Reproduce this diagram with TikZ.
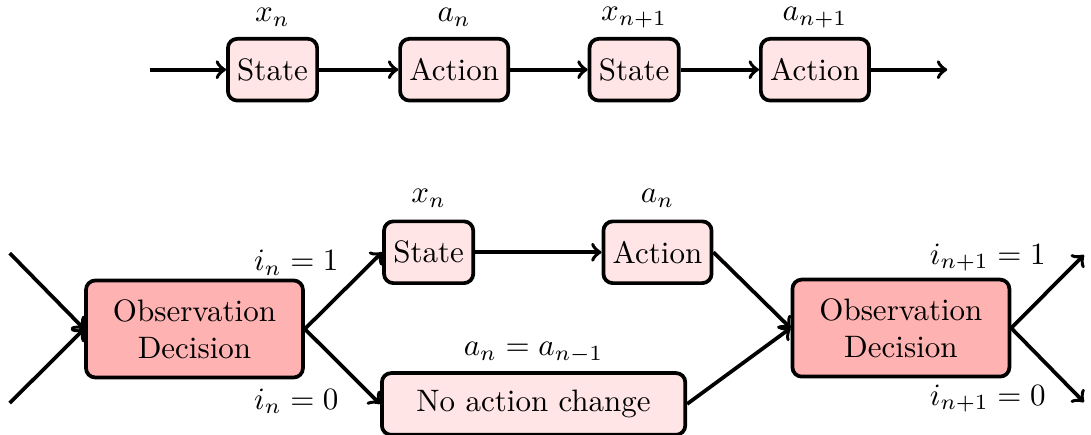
\documentclass[tikz,border=0pt]{standalone}
\usetikzlibrary{
    calc,
    arrows
}
\tikzset{
  every path/.style={
    black,
    line width=1.2pt
  },
  box/.style={
    draw,
    rounded corners=3pt,
    fill=red!10,
    inner sep=3pt,
    minimum height=0.7cm
  },
  decbox/.style={
    box,
    fill=red!30,
    align=center,
    minimum width=2.46cm,
    minimum height=1.1cm
  }
}

\begin{document}
\begin{tikzpicture}
    \useasboundingbox (0,0) rectangle (12.37,-4.93);

    % 上段
    \node[box] (S1) at (3.09,-0.79) {State};
    \node[box] (A1) at (5.15,-0.79) {Action};
    \node[box] (S2) at (7.19,-0.79) {State};
    \node[box] (A2) at (9.24,-0.79) {Action};
    \coordinate (in) at (1.70,-0.79);
    \coordinate (out) at (10.74,-0.79);

    \node (xa) at (3.09,-0.2) {$x_n$};
    \node (aa) at (5.15,-0.2) {$a_n$};
    \node (xb) at (7.19,-0.2) {$x_{n+1}$};
    \node (ab) at (9.24,-0.2) {$a_{n+1}$};

    \draw[->] (in) -- (S1);
    \draw[->] (S1) -- (A1);
    \draw[->] (A1) -- (S2);
    \draw[->] (S2) -- (A2);
    \draw[->] (A2) -- (out);

    % 下段
    \node[decbox] (D1) at (2.205,-3.73) {Observation\\Decision};
    \node[box] (S) at (4.86,-2.86) {State};
    \node[box] (A) at (7.455,-2.86) {Action};
    \node[box, minimum width=3.44cm] (N) at (6.05,-4.58) {No action change};
    \node[decbox] (D2) at (10.215,-3.72) {Observation\\Decision};

    \coordinate (inA) at (0.11,-2.87);
    \coordinate (inB) at (0.11,-4.57);
    \coordinate (outA) at (12.29,-2.89);
    \coordinate (outB) at (12.29,-4.56);

    \node (x) at (4.86,-2.25) {$x_n$};
    \node (a) at (7.455,-2.25) {$a_n$};
    \node (keep) at (6.05,-4.0) {$a_n = a_{n-1}$};
    \node (i1) at (3.36,-2.98) {$i_n = 1$};
    \node (i0) at (3.36,-4.55) {$i_n = 0$};
    \node (j1) at (11.2,-2.92) {$i_{n+1} = 1$};
    \node (j0) at (11.2,-4.52) {$i_{n+1} = 0$};

    \draw[->] (inA) -- (D1.west);
    \draw[->] (inB) -- (D1.west);
    \draw[->] (D1.east) -- (S.west);
    \draw[->] (D1.east) -- (N.west);
    \draw[->] (S) -- (A);
    \draw[->] (A.east) -- (D2.west);
    \draw[->] (N.east) -- (D2.west);
    \draw[->] (D2.east) -- (outA);
    \draw[->] (D2.east) -- (outB);
\end{tikzpicture}
\end{document}
